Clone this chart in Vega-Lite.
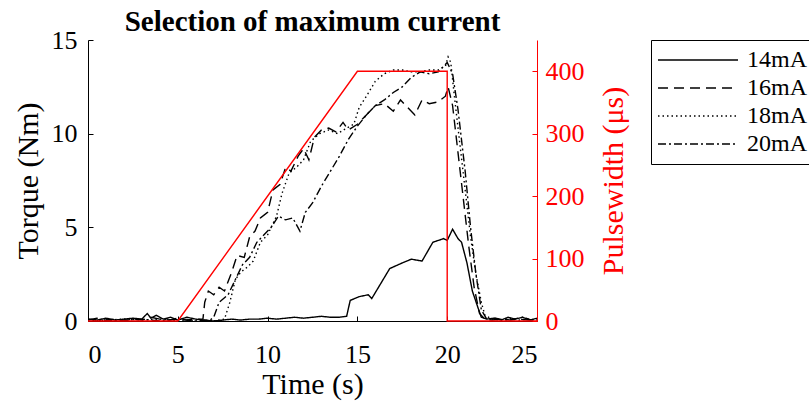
{
  "$schema": "https://vega.github.io/schema/vega-lite/v6.json",
  "autosize": {"type": "none"},
  "width": 449,
  "height": 281,
  "padding": {"left": 88, "top": 40, "right": 272, "bottom": 84},
  "config": {
    "font": "Liberation Serif",
    "view": {"stroke": null},
    "axis": {"grid": false, "labelFont": "Liberation Serif", "titleFont": "Liberation Serif", "labelFontSize": 26, "titleFontSize": 30, "titleFontWeight": "normal", "labelColor": "black", "titleColor": "black", "domainColor": "black", "tickColor": "black", "tickSize": -5, "labelPadding": 13, "domainWidth": 1, "tickWidth": 1}
  },
  "title": {"text": "Selection of maximum current", "font": "Liberation Serif", "fontSize": 29, "fontWeight": "bold", "anchor": "middle", "offset": -10, "color": "black"},
  "datasets": {
    "torque": [
      {"s":"14mA","t":0,"v":0.1},{"s":"14mA","t":0.5,"v":0.05},{"s":"14mA","t":1,"v":0.15},{"s":"14mA","t":1.5,"v":0.05},{"s":"14mA","t":2,"v":0.1},{"s":"14mA","t":2.5,"v":0.15},{"s":"14mA","t":3,"v":0.1},{"s":"14mA","t":3.3,"v":0.4},{"s":"14mA","t":3.5,"v":0.15},{"s":"14mA","t":3.8,"v":0.3},{"s":"14mA","t":4.2,"v":0.1},{"s":"14mA","t":4.6,"v":0.2},{"s":"14mA","t":5,"v":0.05},{"s":"14mA","t":5.5,"v":0.2},{"s":"14mA","t":6,"v":0.1},{"s":"14mA","t":6.5,"v":0.05},{"s":"14mA","t":7,"v":0.0},{"s":"14mA","t":7.5,"v":0.05},{"s":"14mA","t":8,"v":0.1},{"s":"14mA","t":8.5,"v":0.05},{"s":"14mA","t":9,"v":0.1},{"s":"14mA","t":9.5,"v":0.1},{"s":"14mA","t":10,"v":0.15},{"s":"14mA","t":10.5,"v":0.1},{"s":"14mA","t":11,"v":0.15},{"s":"14mA","t":11.5,"v":0.2},{"s":"14mA","t":12,"v":0.15},{"s":"14mA","t":12.5,"v":0.2},{"s":"14mA","t":13,"v":0.25},{"s":"14mA","t":13.5,"v":0.2},{"s":"14mA","t":14,"v":0.2},{"s":"14mA","t":14.4,"v":0.25},{"s":"14mA","t":14.6,"v":1.1},{"s":"14mA","t":15.1,"v":1.3},{"s":"14mA","t":15.6,"v":1.4},{"s":"14mA","t":15.8,"v":1.2},{"s":"14mA","t":16.3,"v":2.0},{"s":"14mA","t":16.8,"v":2.8},{"s":"14mA","t":17.5,"v":3.1},{"s":"14mA","t":18,"v":3.3},{"s":"14mA","t":18.6,"v":3.2},{"s":"14mA","t":19.2,"v":4.2},{"s":"14mA","t":19.8,"v":4.4},{"s":"14mA","t":20,"v":4.3},{"s":"14mA","t":20.3,"v":4.9},{"s":"14mA","t":20.6,"v":4.4},{"s":"14mA","t":20.8,"v":4.2},{"s":"14mA","t":21.1,"v":3.1},{"s":"14mA","t":21.4,"v":1.6},{"s":"14mA","t":21.7,"v":0.75},{"s":"14mA","t":21.9,"v":0.2},{"s":"14mA","t":22.2,"v":0.1},{"s":"14mA","t":22.6,"v":0.15},{"s":"14mA","t":23,"v":0.05},{"s":"14mA","t":23.4,"v":0.2},{"s":"14mA","t":23.8,"v":0.1},{"s":"14mA","t":24.2,"v":0.2},{"s":"14mA","t":24.6,"v":0.05},{"s":"14mA","t":25,"v":0.15},

      {"s":"16mA","t":0,"v":0.05},{"s":"16mA","t":0.5,"v":0.15},{"s":"16mA","t":1,"v":0.05},{"s":"16mA","t":1.5,"v":0.1},{"s":"16mA","t":2,"v":0.0},{"s":"16mA","t":2.5,"v":0.1},{"s":"16mA","t":3,"v":0.05},{"s":"16mA","t":3.5,"v":0.2},{"s":"16mA","t":4,"v":0.1},{"s":"16mA","t":4.5,"v":0.05},{"s":"16mA","t":5,"v":0.15},{"s":"16mA","t":5.5,"v":0.05},{"s":"16mA","t":6,"v":0.1},{"s":"16mA","t":6.4,"v":0.1},{"s":"16mA","t":6.5,"v":1.0},{"s":"16mA","t":6.7,"v":1.6},{"s":"16mA","t":7,"v":1.4},{"s":"16mA","t":7.3,"v":1.8},{"s":"16mA","t":7.6,"v":1.6},{"s":"16mA","t":8,"v":2.6},{"s":"16mA","t":8.3,"v":3.5},{"s":"16mA","t":8.7,"v":3.4},{"s":"16mA","t":9,"v":4.5},{"s":"16mA","t":9.3,"v":4.8},{"s":"16mA","t":9.6,"v":5.5},{"s":"16mA","t":10,"v":5.8},{"s":"16mA","t":10.3,"v":7.0},{"s":"16mA","t":10.7,"v":7.3},{"s":"16mA","t":11,"v":8.2},{"s":"16mA","t":11.3,"v":8.0},{"s":"16mA","t":11.7,"v":8.8},{"s":"16mA","t":12,"v":9.2},{"s":"16mA","t":12.3,"v":8.6},{"s":"16mA","t":12.6,"v":9.8},{"s":"16mA","t":13,"v":10.2},{"s":"16mA","t":13.4,"v":10.3},{"s":"16mA","t":13.8,"v":10.1},{"s":"16mA","t":14.2,"v":10.6},{"s":"16mA","t":14.5,"v":10.2},{"s":"16mA","t":15,"v":10.5},{"s":"16mA","t":15.5,"v":11.0},{"s":"16mA","t":16,"v":11.5},{"s":"16mA","t":16.5,"v":11.6},{"s":"16mA","t":17,"v":11.2},{"s":"16mA","t":17.4,"v":11.8},{"s":"16mA","t":17.8,"v":11.4},{"s":"16mA","t":18.2,"v":11.0},{"s":"16mA","t":18.6,"v":11.8},{"s":"16mA","t":19,"v":11.6},{"s":"16mA","t":19.5,"v":11.7},{"s":"16mA","t":19.9,"v":12.0},{"s":"16mA","t":20.05,"v":12.5},{"s":"16mA","t":20.3,"v":11.5},{"s":"16mA","t":20.6,"v":9.0},{"s":"16mA","t":20.9,"v":6.5},{"s":"16mA","t":21.2,"v":4.0},{"s":"16mA","t":21.5,"v":1.8},{"s":"16mA","t":21.8,"v":0.4},{"s":"16mA","t":22.1,"v":0.1},{"s":"16mA","t":22.5,"v":0.05},{"s":"16mA","t":23,"v":0.1},{"s":"16mA","t":23.5,"v":0.05},{"s":"16mA","t":24,"v":0.1},{"s":"16mA","t":24.5,"v":0.05},{"s":"16mA","t":25,"v":0.1},

      {"s":"18mA","t":0,"v":0.0},{"s":"18mA","t":1,"v":0.05},{"s":"18mA","t":2,"v":0.1},{"s":"18mA","t":3,"v":0.05},{"s":"18mA","t":4,"v":0.1},{"s":"18mA","t":5,"v":0.0},{"s":"18mA","t":6,"v":0.05},{"s":"18mA","t":7,"v":0.0},{"s":"18mA","t":7.6,"v":0.1},{"s":"18mA","t":7.9,"v":1.0},{"s":"18mA","t":8.2,"v":2.2},{"s":"18mA","t":8.5,"v":2.6},{"s":"18mA","t":8.9,"v":2.9},{"s":"18mA","t":9.2,"v":3.2},{"s":"18mA","t":9.6,"v":4.2},{"s":"18mA","t":10,"v":4.6},{"s":"18mA","t":10.5,"v":5.6},{"s":"18mA","t":10.8,"v":6.8},{"s":"18mA","t":11.2,"v":7.9},{"s":"18mA","t":11.6,"v":8.2},{"s":"18mA","t":12,"v":8.6},{"s":"18mA","t":12.4,"v":9.6},{"s":"18mA","t":12.9,"v":10.0},{"s":"18mA","t":13.4,"v":10.2},{"s":"18mA","t":13.9,"v":10.0},{"s":"18mA","t":14.4,"v":10.3},{"s":"18mA","t":14.8,"v":10.5},{"s":"18mA","t":15.1,"v":11.4},{"s":"18mA","t":15.5,"v":12.0},{"s":"18mA","t":16,"v":12.8},{"s":"18mA","t":16.5,"v":13.2},{"s":"18mA","t":17,"v":13.4},{"s":"18mA","t":17.5,"v":13.4},{"s":"18mA","t":18,"v":13.3},{"s":"18mA","t":18.5,"v":13.3},{"s":"18mA","t":19,"v":13.4},{"s":"18mA","t":19.5,"v":13.4},{"s":"18mA","t":19.9,"v":13.6},{"s":"18mA","t":20.05,"v":14.1},{"s":"18mA","t":20.2,"v":13.8},{"s":"18mA","t":20.4,"v":12.0},{"s":"18mA","t":20.7,"v":9.5},{"s":"18mA","t":21,"v":7.0},{"s":"18mA","t":21.3,"v":4.5},{"s":"18mA","t":21.6,"v":2.5},{"s":"18mA","t":21.9,"v":1.0},{"s":"18mA","t":22.1,"v":0.3},{"s":"18mA","t":22.5,"v":0.1},{"s":"18mA","t":23,"v":0.05},{"s":"18mA","t":23.5,"v":0.15},{"s":"18mA","t":24,"v":0.05},{"s":"18mA","t":24.5,"v":0.1},{"s":"18mA","t":25,"v":0.05},

      {"s":"20mA","t":0,"v":0.1},{"s":"20mA","t":1,"v":0.0},{"s":"20mA","t":2,"v":0.05},{"s":"20mA","t":3,"v":0.1},{"s":"20mA","t":4,"v":0.0},{"s":"20mA","t":5,"v":0.1},{"s":"20mA","t":6,"v":0.0},{"s":"20mA","t":6.8,"v":0.05},{"s":"20mA","t":7,"v":0.2},{"s":"20mA","t":7.3,"v":1.0},{"s":"20mA","t":7.8,"v":1.4},{"s":"20mA","t":8.2,"v":2.2},{"s":"20mA","t":8.6,"v":3.0},{"s":"20mA","t":9,"v":3.4},{"s":"20mA","t":9.4,"v":4.2},{"s":"20mA","t":9.8,"v":4.6},{"s":"20mA","t":10.2,"v":5.0},{"s":"20mA","t":10.6,"v":5.6},{"s":"20mA","t":11,"v":5.4},{"s":"20mA","t":11.4,"v":5.5},{"s":"20mA","t":11.8,"v":4.8},{"s":"20mA","t":12.1,"v":5.8},{"s":"20mA","t":12.5,"v":6.3},{"s":"20mA","t":13,"v":7.2},{"s":"20mA","t":13.5,"v":8.0},{"s":"20mA","t":14,"v":8.8},{"s":"20mA","t":14.5,"v":9.7},{"s":"20mA","t":15,"v":10.4},{"s":"20mA","t":15.5,"v":11.0},{"s":"20mA","t":16,"v":11.5},{"s":"20mA","t":16.5,"v":11.8},{"s":"20mA","t":17,"v":12.2},{"s":"20mA","t":17.5,"v":12.5},{"s":"20mA","t":18,"v":13.0},{"s":"20mA","t":18.5,"v":13.3},{"s":"20mA","t":19,"v":13.2},{"s":"20mA","t":19.5,"v":13.3},{"s":"20mA","t":20,"v":13.8},{"s":"20mA","t":20.3,"v":13.2},{"s":"20mA","t":20.6,"v":11.3},{"s":"20mA","t":21,"v":8.0},{"s":"20mA","t":21.3,"v":5.0},{"s":"20mA","t":21.6,"v":2.5},{"s":"20mA","t":21.9,"v":0.6},{"s":"20mA","t":22.2,"v":0.1},{"s":"20mA","t":22.7,"v":0.15},{"s":"20mA","t":23.2,"v":0.05},{"s":"20mA","t":23.7,"v":0.1},{"s":"20mA","t":24.2,"v":0.2},{"s":"20mA","t":24.7,"v":0.05},{"s":"20mA","t":25,"v":0.1}
    ],
    "pulse": [
      {"i":0,"t":0,"p":0},{"i":1,"t":5,"p":0},{"i":2,"t":15,"p":400},{"i":3,"t":20,"p":400},{"i":4,"t":20,"p":0},{"i":5,"t":25,"p":0}
    ]
  },
  "layer": [
    {
      "data": {"name": "torque"},
      "mark": {"type": "line", "strokeWidth": 1.4, "color": "black", "clip": true},
      "encoding": {
        "x": {"field": "t", "type": "quantitative", "scale": {"domain": [0, 25], "nice": false}, "axis": {"title": "Time (s)", "values": [0,5,10,15,20,25], "titlePadding": 2, "labelPadding": 25}},
        "y": {"field": "v", "type": "quantitative", "scale": {"domain": [0, 15], "nice": false}, "axis": {"title": "Torque (Nm)", "values": [0,5,10,15], "titlePadding": 8, "labelPadding": 16}},
        "strokeDash": {"field": "s", "type": "nominal", "scale": {"domain": ["14mA","16mA","18mA","20mA"], "range": [[1,0],[10,6],[1.5,3],[8,3,2,3]]},
          "legend": {"title": null, "orient": "none", "legendX": 563, "legendY": 0, "symbolType": "stroke", "symbolSize": 6400, "symbolStrokeColor": "black", "symbolStrokeWidth": 1.4, "labelFont": "Liberation Serif", "labelFontSize": 24, "labelColor": "black", "labelOffset": 8, "rowPadding": 0, "clipHeight": 28, "padding": 6, "strokeColor": "black", "cornerRadius": 0, "fillColor": "white"}}
      }
    },
    {
      "data": {"name": "pulse"},
      "mark": {"type": "line", "strokeWidth": 1.4, "color": "#ff0000"},
      "encoding": {
        "x": {"field": "t", "type": "quantitative"},
        "y": {"field": "p", "type": "quantitative", "scale": {"domain": [0, 450], "nice": false}, "axis": {"orient": "right", "title": "Pulsewidth (μs)", "titleAngle": 270, "titleBaseline": "top", "values": [0,100,200,300,400], "domainColor": "#ff0000", "tickColor": "#ff0000", "labelColor": "#ff0000", "titleColor": "#ff0000", "titlePadding": 14}},
        "order": {"field": "i", "type": "quantitative"}
      }
    }
  ],
  "resolve": {"scale": {"y": "independent"}}
}
